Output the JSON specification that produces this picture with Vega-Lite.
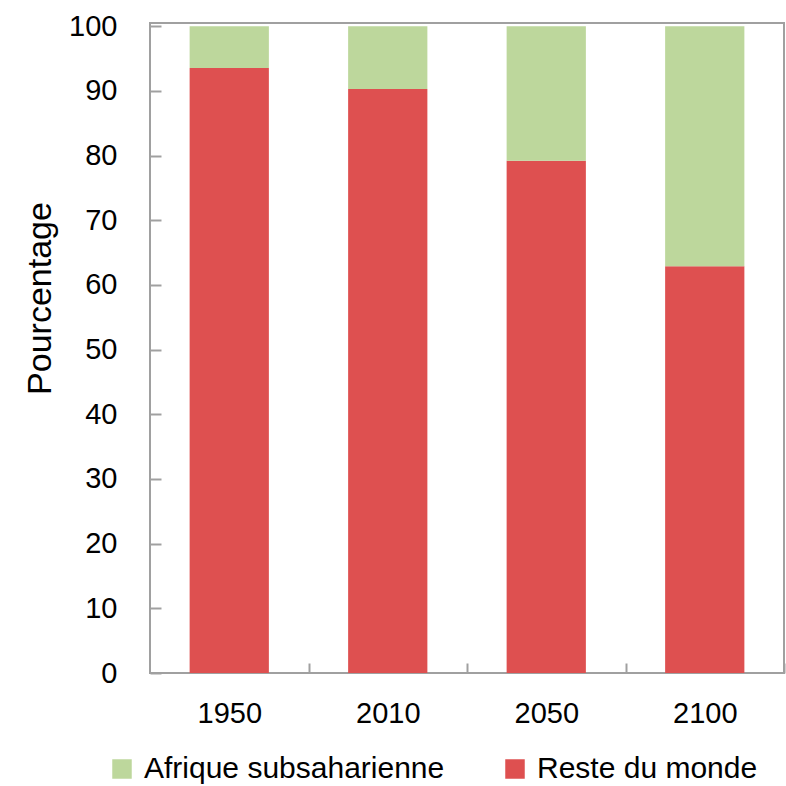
{
  "$schema": "https://vega.github.io/schema/vega-lite/v6.json",
  "width": 634,
  "height": 650,
  "autosize": {"type": "none"},
  "padding": {"left": 150, "top": 23, "right": 2, "bottom": 113},
  "background": "white",
  "config": {
    "font": "Liberation Sans",
    "view": {"stroke": "#a0a0a0", "strokeWidth": 2},
    "axis": {"grid": false, "domain": false, "tickColor": "#a0a0a0", "tickWidth": 2, "labelColor": "black", "labelFont": "Liberation Sans", "labelFontSize": 29, "titleFont": "Liberation Sans", "titleFontWeight": "normal", "titleColor": "black"}
  },
  "data": {
    "values": [
      {"annee": "1950", "serie": "Reste du monde", "pct": 93.55},
      {"annee": "1950", "serie": "Afrique subsaharienne", "pct": 6.45},
      {"annee": "2010", "serie": "Reste du monde", "pct": 90.3},
      {"annee": "2010", "serie": "Afrique subsaharienne", "pct": 9.7},
      {"annee": "2050", "serie": "Reste du monde", "pct": 79.2},
      {"annee": "2050", "serie": "Afrique subsaharienne", "pct": 20.8},
      {"annee": "2100", "serie": "Reste du monde", "pct": 62.9},
      {"annee": "2100", "serie": "Afrique subsaharienne", "pct": 37.1}
    ]
  },
  "mark": {"type": "bar"},
  "encoding": {
    "x": {
      "field": "annee", "type": "nominal",
      "scale": {"paddingInner": 0.5, "paddingOuter": 0.25},
      "axis": {"title": null, "labelAngle": 0, "tickOffset": 79.25, "labelOffset": -79.25, "tickSize": -10, "labelPadding": 36}
    },
    "y": {
      "field": "pct", "type": "quantitative", "stack": "zero",
      "scale": {"domain": [0, 100.5], "nice": false},
      "axis": {"title": "Pourcentage", "titleFontSize": 34, "values": [0,10,20,30,40,50,60,70,80,90,100], "tickSize": -11, "labelPadding": 44, "titleAngle": -90, "titleX": -100, "titleY": 275, "titleAlign": "center", "titleBaseline": "alphabetic"}
    },
    "color": {
      "field": "serie", "type": "nominal",
      "scale": {"domain": ["Afrique subsaharienne", "Reste du monde"], "range": ["#bdd79c", "#de5050"]},
      "legend": {"title": null, "orient": "none", "legendX": -43, "legendY": 731, "direction": "horizontal", "columns": 2, "symbolType": "square", "symbolSize": 380, "symbolStrokeWidth": 0, "labelFontSize": 30, "labelFont": "Liberation Sans", "labelColor": "black", "labelOffset": 7, "columnPadding": 55, "labelLimit": 400}
    },
    "order": {"field": "serie", "sort": "descending"}
  }
}
